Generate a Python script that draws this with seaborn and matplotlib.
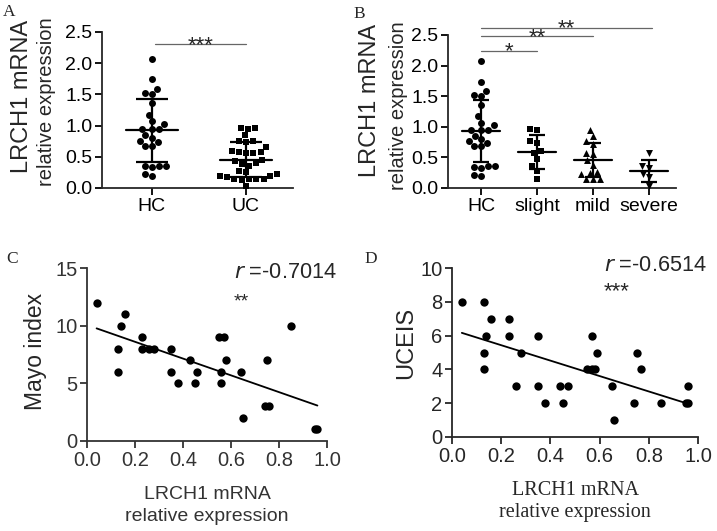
import numpy as np
import pandas as pd
import matplotlib
matplotlib.use("Agg")
import matplotlib.pyplot as plt
import seaborn as sns

W, H = 717, 531

# ---- data ----
hc = [2.07, 1.74, 1.58, 1.52, 1.50, 1.36, 1.17, 1.07, 1.03, 0.95, 0.95, 0.95,
      0.85, 0.80, 0.76, 0.74, 0.68, 0.68, 0.36, 0.35, 0.33, 0.36, 0.22, 0.20]
uc = [0.96, 0.96, 0.95, 0.85, 0.76, 0.75, 0.74, 0.65, 0.59, 0.57, 0.57, 0.56,
      0.56, 0.45, 0.43, 0.40, 0.38, 0.36, 0.28, 0.26, 0.22, 0.20, 0.20, 0.17,
      0.15, 0.15, 0.14, 0.14, 0.13, 0.04]
slight = [0.96, 0.95, 0.76, 0.74, 0.60, 0.57, 0.47, 0.36, 0.28, 0.14]
mild = [0.95, 0.85, 0.76, 0.72, 0.57, 0.56, 0.45, 0.38, 0.26, 0.24, 0.23,
        0.14, 0.14, 0.14]
severe = [0.57, 0.36, 0.33, 0.23, 0.18, 0.04]

cats_a = ["HC", "UC"]
cats_b = ["HC", "slight", "mild", "severe"]

mayo_x = [0.04, 0.14, 0.16, 0.13, 0.13, 0.23, 0.23, 0.26, 0.28, 0.35, 0.35,
          0.38, 0.43, 0.45, 0.46, 0.55, 0.57, 0.56, 0.56, 0.58, 0.64, 0.65,
          0.74, 0.75, 0.76, 0.85, 0.95, 0.96]
mayo_y = [12, 10, 11, 8, 6, 9, 8, 8, 8, 8, 6, 5, 7, 5, 6, 9, 9, 6, 5, 7, 6, 2,
          3, 7, 3, 10, 1, 1]

uceis_x = [0.04, 0.13, 0.13, 0.13, 0.14, 0.16, 0.23, 0.23, 0.26, 0.28, 0.35,
           0.35, 0.38, 0.44, 0.45, 0.47, 0.55, 0.57, 0.57, 0.58, 0.59, 0.65,
           0.66, 0.74, 0.75, 0.77, 0.85, 0.95, 0.96, 0.96]
uceis_y = [8, 8, 5, 4, 6, 7, 7, 6, 3, 5, 6, 3, 2, 3, 2, 3, 4, 6, 4, 4, 5, 3, 1,
           2, 5, 4, 2, 2, 2, 3]

sns.set_style("ticks")
plt.rcParams["font.family"] = ["Liberation Sans", "DejaVu Sans"]
plt.rcParams["axes.linewidth"] = 1.3
plt.rcParams["xtick.major.width"] = 1.3
plt.rcParams["ytick.major.width"] = 1.3
plt.rcParams["xtick.major.size"] = 5
plt.rcParams["ytick.major.size"] = 5

fig = plt.figure(figsize=(W / 100, H / 100), dpi=100)
serif = ["Liberation Serif", "DejaVu Serif"]


def ax_px(l, t, r, b):
    return fig.add_axes([l / W, 1 - b / H, (r - l) / W, (b - t) / H])


def px_text(x, y, s, **kw):
    fig.text(x / W, 1 - y / H, s, **kw)


def dot_panel(ax, groups, cats, markers, half, cap):
    df = pd.DataFrame({"grp": np.repeat(cats, [len(g) for g in groups]),
                       "val": np.concatenate(groups)})
    for c, m in zip(cats, markers):
        sns.swarmplot(data=df[df.grp == c], x="grp", y="val", order=cats,
                      marker=m, color="black", size=5.0, ax=ax)
    for i, g in enumerate(groups):
        mu, sd = np.mean(g), np.std(g, ddof=1)
        ax.plot([i - half, i + half], [mu, mu], color="black", lw=1.6)
        ax.errorbar(i, mu, yerr=sd, color="black", lw=1.6, capsize=cap,
                    capthick=1.6)
    ax.set_ylim(0, 2.5)
    ax.set_yticks([0, 0.5, 1.0, 1.5, 2.0, 2.5])
    ax.set_yticklabels(["0.0", "0.5", "1.0", "1.5", "2.0", "2.5"])
    ax.set_xlabel("")
    ax.set_ylabel("")
    ax.tick_params(labelsize=14, colors="black", pad=2)
    sns.despine(ax=ax)


def ylab2(x1, y1, x2, y2):
    px_text(x1, y1, "LRCH1 mRNA", fontsize=17, rotation=90,
            ha="center", va="center")
    px_text(x2, y2, "relative expression", fontsize=14.5, rotation=90,
            ha="center", va="center")


def sig(ax, x0, x1, y, txt):
    ax.plot([x0, x1], [y, y], color="#666666", lw=0.9, clip_on=False)
    ax.text((x0 + x1) / 2, y - 0.11, txt, ha="center", va="baseline",
            fontsize=16, clip_on=False)


# ---- A ----
axA = ax_px(102, 32, 293, 188)
dot_panel(axA, [hc, uc], cats_a, ["o", "s"], 0.28, 11.5)
axA.set_xlim(-0.53, 1.5)
ylab2(22, 96, 47, 102)
sig(axA, 0.03, 1.0, 2.3, "***")

# ---- B ----
axB = ax_px(448, 35, 676, 188)
dot_panel(axB, [hc, slight, mild, severe], cats_b, ["o", "s", "^", "v"],
          0.34, 6)
axB.set_xlim(-0.59, 3.48)
ylab2(370, 100, 398, 106)
sig(axB, 0.0, 1.0, 2.24, "*")
sig(axB, 0.0, 2.0, 2.48, "**")
sig(axB, 0.0, 3.05, 2.62, "**")


def reg_panel(ax, x, y):
    sns.regplot(x=np.array(x), y=np.array(y), ax=ax, ci=None, color="black",
                scatter_kws={"s": 36, "linewidths": 0, "alpha": 1},
                line_kws={"lw": 1.3})
    ax.set_xlim(0, 1.0)
    ax.set_xticks([0, 0.2, 0.4, 0.6, 0.8, 1.0])
    ax.set_xticklabels(["0.0", "0.2", "0.4", "0.6", "0.8", "1.0"])
    sns.despine(ax=ax)


# ---- C ----
axC = ax_px(87, 268, 327, 441)
reg_panel(axC, mayo_x, mayo_y)
axC.set_ylim(0, 15)
axC.set_yticks([0, 5, 10, 15])
axC.tick_params(labelsize=14.5, colors="#333333", pad=2)
axC.spines[["left", "bottom"]].set_color("#333333")
axC.set_ylabel("Mayo index", fontsize=16.5)
axC.yaxis.set_label_coords(-0.165, 0.52)
axC.set_xlabel("LRCH1 mRNA\nrelative expression", fontsize=14,
               color="#333333", labelpad=12, linespacing=1.35)

# ---- D ----
axD = ax_px(452, 268, 698, 437)
reg_panel(axD, uceis_x, uceis_y)
axD.set_ylim(0, 10)
axD.set_yticks([0, 2, 4, 6, 8, 10])
axD.tick_params(labelsize=14.5, pad=2)
axD.set_ylabel("UCEIS", fontsize=17)
axD.yaxis.set_label_coords(-0.14, 0.556)
axD.set_xlabel("LRCH1 mRNA\nrelative expression", fontsize=14.5,
               family=serif, labelpad=11, linespacing=1.2)

# ---- annotations ----
px_text(3, 16, "A", fontsize=12.5, family=serif)
px_text(353, 18, "B", fontsize=12.5, family=serif)
px_text(6, 263, "C", fontsize=12.5, family=serif)
px_text(364, 263, "D", fontsize=12.5, family=serif)

px_text(234, 278, r"$\it{r}$ =-0.7014", fontsize=15.7)
px_text(234, 306, "**", fontsize=14)
px_text(604, 271, r"$\it{r}$ =-0.6514", fontsize=15.7)
px_text(604, 297, "***", fontsize=16)

fig.savefig("out.png", dpi=100)
